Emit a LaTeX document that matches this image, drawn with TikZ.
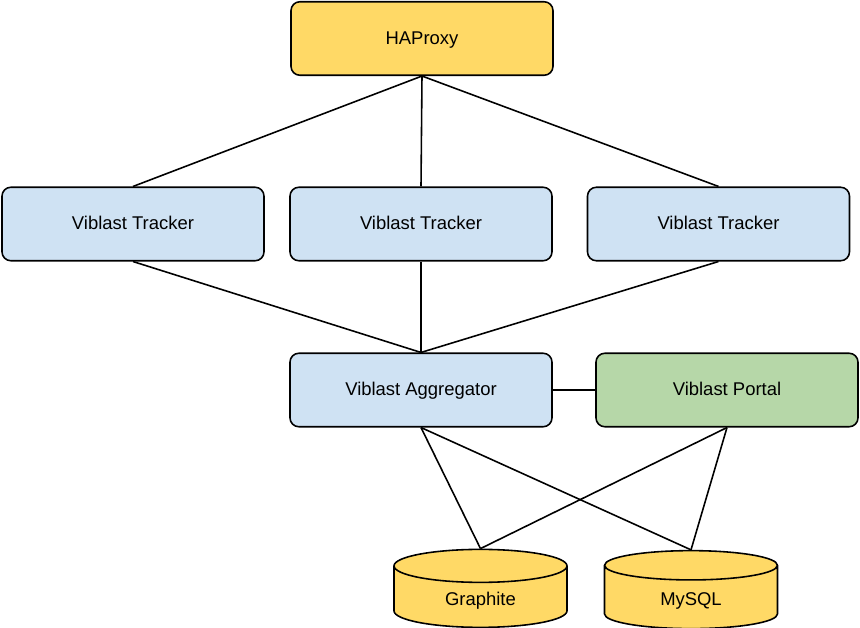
\documentclass[tikz,border=0pt]{standalone}
\usepackage{fontspec}
\setmainfont{Liberation Sans}
\usetikzlibrary{shapes.geometric}
\definecolor{proxyyellow}{HTML}{FFD966}
\definecolor{nodeblue}{HTML}{CFE2F3}
\definecolor{portalgreen}{HTML}{B6D7A8}

\begin{document}
\begin{tikzpicture}[x=0.02cm,y=-0.02cm]
    \useasboundingbox (0,0) rectangle (860,628);

    %Boxes
     \begin{scope}[every node/.style={rectangle,rounded corners=5pt,draw,line width=0.9pt,
        minimum width=5.24cm,minimum height=1.47cm,text height=1.6ex,text depth=0.35ex,
        font=\fontsize{10.5}{12}\selectfont}]
       \node[fill=proxyyellow] (haproxy) at (422,38.5) {HAProxy};
       \node[fill=nodeblue] (tracker1) at (133,224) {Viblast Tracker};
       \node[fill=nodeblue] (tracker2) at (421,224) {Viblast Tracker};
       \node[fill=nodeblue] (tracker3) at (718.5,224) {Viblast Tracker};
       \node[fill=nodeblue] (aggregator) at (421,390) {Viblast Aggregator};
       \node[fill=portalgreen] (portal) at (727,390) {Viblast Portal};
    \end{scope}

    %Databases
     \begin{scope}[every node/.style={cylinder,shape border rotate=90,aspect=0.4,draw,
        line width=0.9pt,fill=proxyyellow,minimum width=3.46cm,minimum height=1.56cm,
        text height=1.6ex,text depth=0.35ex,font=\fontsize{10.5}{12}\selectfont}]
       \node (graphite) at (480.5,600) {Graphite};
       \node (mysql) at (691,600) {MySQL};
    \end{scope}

    \begin{scope}[every edge/.style={draw,line width=0.9pt}]
      \path (haproxy.south) edge (tracker1.north);
      \path (haproxy.south) edge (tracker2.north);
      \path (haproxy.south) edge (tracker3.north);
      \path (tracker1.south) edge (aggregator.north);
      \path (tracker2.south) edge (aggregator.north);
      \path (tracker3.south) edge (aggregator.north);
      \path (aggregator.east) edge (portal.west);
      \path (aggregator.south) edge (graphite.north);
      \path (aggregator.south) edge (mysql.north);
      \path (portal.south) edge (graphite.north);
      \path (portal.south) edge (mysql.north);
    \end{scope}
  \end{tikzpicture}
\end{document}
